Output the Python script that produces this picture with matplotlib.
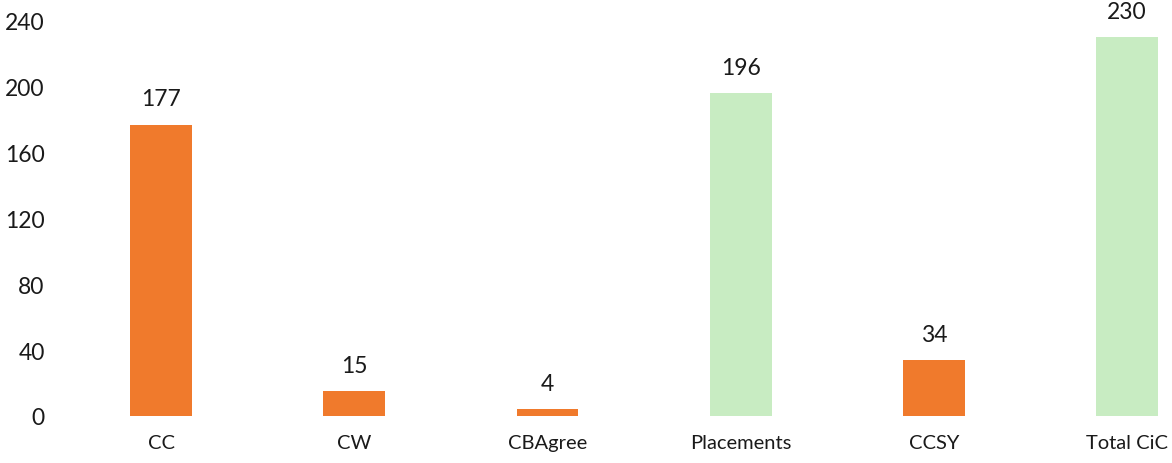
import matplotlib.pyplot as plt

categories = ["CC", "CW", "CBAgree", "Placements", "CCSY", "Total CiC"]
values = [177, 15, 4, 196, 34, 230]
is_total = [False, False, False, True, False, True]
yticks = [0, 40, 80, 120, 160, 200, 240]

ORANGE = "#F07A2C"
GREEN = "#C8ECC2"

plt.rcParams["font.family"] = ["Lato", "DejaVu Sans"]

fig = plt.figure(figsize=(11.72, 4.64), dpi=100)
fig.patch.set_facecolor("white")
ax = fig.add_axes([60 / 1172, 1 - 417 / 464, 1 - 60 / 1172, (417 - 22) / 464])
ax.set_facecolor("none")

colors = [GREEN if t else ORANGE for t in is_total]
x = range(len(categories))
bars = ax.bar(x, values, width=0.32, color=colors, edgecolor="none")

for b, v in zip(bars, values):
    ax.annotate(str(v), (b.get_x() + b.get_width() / 2, v),
                xytext=(0, 11), textcoords="offset points",
                ha="center", va="bottom", fontsize=16.5, color="#1a1a1a")

ax.set_xlim(-0.523, 5.233)
ax.set_ylim(0, 240)
ax.set_yticks(yticks)
ax.set_xticks(list(x))
ax.set_xticklabels(categories)
ax.tick_params(axis="y", length=0, pad=11, labelsize=16.5, labelcolor="#1a1a1a")
ax.tick_params(axis="x", length=0, pad=13, labelsize=14.5, labelcolor="#1a1a1a")
for s in ax.spines.values():
    s.set_visible(False)

fig.savefig("out.png", dpi=100, facecolor=fig.get_facecolor())
